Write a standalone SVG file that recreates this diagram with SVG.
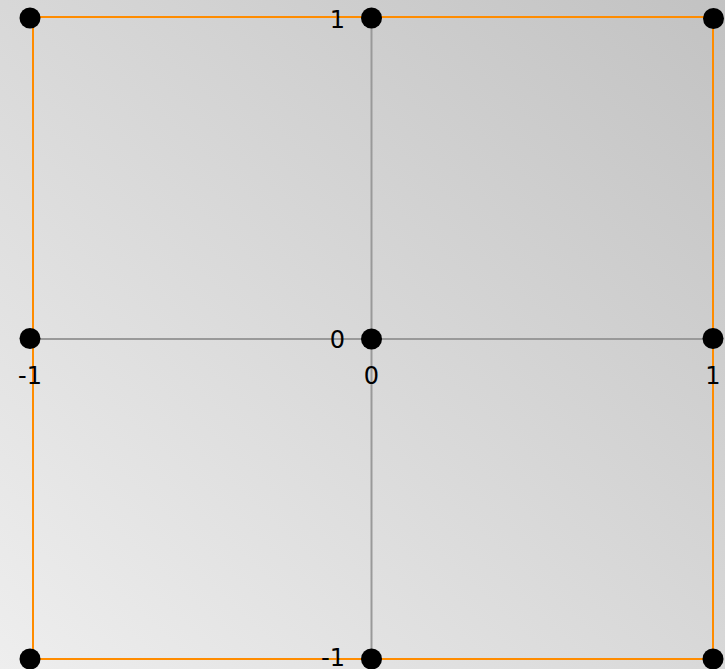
<svg xmlns="http://www.w3.org/2000/svg" width="725" height="669" viewBox="0 0 725 669">
<defs>
<linearGradient id="bg" x1="0" y1="1" x2="1" y2="0">
<stop offset="0" stop-color="#eeeeee"/>
<stop offset="1" stop-color="#c2c2c2"/>
</linearGradient>
</defs>
<style>
.axis{stroke:#999999;stroke-width:2;fill:none}
.frame{stroke:#ff8c00;stroke-width:2;fill:none}
.dot{fill:#000000}
.lbl{font-family:"DejaVu Sans",sans-serif;font-size:24px;fill:#000000}
</style>
<rect width="725" height="669" fill="url(#bg)"/>
<g id="connectors">
<line class="axis" x1="371.5" y1="18" x2="371.5" y2="659"/>
<line class="axis" x1="30" y1="339" x2="713" y2="339"/>
<rect class="frame" x="33" y="17" width="680" height="642"/>
</g>
<g id="p-tl"><circle class="dot" cx="30" cy="18" r="10.5"/></g>
<g id="p-tm"><circle class="dot" cx="371.5" cy="18" r="10.5"/><text class="lbl" x="345" y="28" text-anchor="end">1</text></g>
<g id="p-tr"><circle class="dot" cx="713.5" cy="18.5" r="10.5"/></g>
<g id="p-ml"><circle class="dot" cx="30" cy="338.5" r="10.5"/><text class="lbl" x="30" y="384" text-anchor="middle">-1</text></g>
<g id="p-c"><circle class="dot" cx="371.5" cy="339" r="10.5"/><text class="lbl" x="345" y="348" text-anchor="end">0</text><text class="lbl" x="371.5" y="384" text-anchor="middle">0</text></g>
<g id="p-mr"><circle class="dot" cx="713" cy="338.5" r="10.5"/><text class="lbl" x="713" y="384" text-anchor="middle">1</text></g>
<g id="p-bl"><circle class="dot" cx="30" cy="659" r="10.5"/></g>
<g id="p-bm"><circle class="dot" cx="371.5" cy="659" r="10.5"/><text class="lbl" x="345" y="666" text-anchor="end">-1</text></g>
<g id="p-br"><circle class="dot" cx="713" cy="659" r="10.5"/></g>
</svg>
